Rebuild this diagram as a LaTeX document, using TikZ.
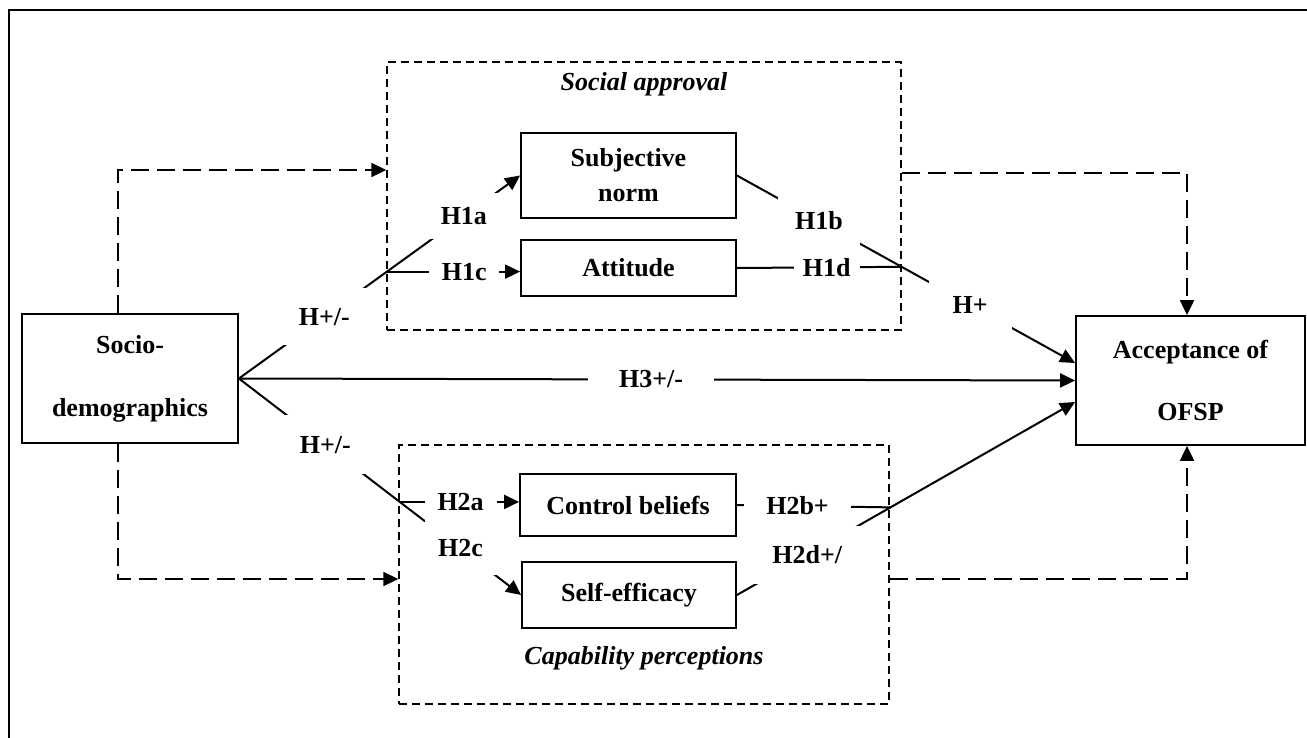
\documentclass[tikz,border=0pt]{standalone}
\usepackage{fontspec}
\setmainfont{Liberation Serif}
\usetikzlibrary{arrows.meta}
\newcommand{\figfont}{\fontsize{13}{17.5}\selectfont}
\tikzstyle{factor} = [draw, line width=0.9pt, inner sep=0pt, align=center, font=\figfont\bfseries]
\tikzstyle{construct} = [draw, line width=0.7pt, dash pattern=on 4pt off 2.5pt, inner sep=0pt]
\tikzstyle{ctitle} = [inner sep=0pt, font=\figfont\bfseries\itshape]
\tikzstyle{hyp} = [fill=white, font=\figfont\bfseries]
\tikzstyle{plain} = [line width=1pt]
\tikzstyle{link} = [plain, -{Triangle[length=7.5pt,width=7pt]}]
\tikzstyle{dlink} = [link, dash pattern=on 9pt off 4pt]
\begin{document}
\begin{tikzpicture}[x=0.5pt,y=-0.5pt]
\useasboundingbox (0,0) rectangle (1307,738);
% frame
\draw[line width=1pt] (9,738) -- (9,10) -- (1307,10);

% groups
\node[construct, minimum width=257pt, minimum height=134pt] (sa) at (644,196) {};
\node[ctitle] (satitle) at (644,84) {Social approval};
\node[construct, minimum width=245pt, minimum height=129.5pt] (cp) at (644,574.5) {};
\node[ctitle] (cptitle) at (644,658) {Capability perceptions};

% factors
\node[factor, minimum width=108pt, minimum height=64.5pt] (socio) at (130,378.5) {Socio-\\[14pt]demographics};
\node[factor, minimum width=114.5pt, minimum height=64.5pt] (acc) at (1190.5,380.5) {Acceptance of\\[13.5pt]OFSP};
\node[factor, minimum width=107.5pt, minimum height=42.5pt] (subj) at (628.5,175.5) {Subjective\\norm};
\node[factor, minimum width=107.5pt, minimum height=28pt] (att) at (628.5,268) {Attitude};
\node[factor, minimum width=108pt, minimum height=31pt] (ctrl) at (628,505) {Control beliefs};
\node[factor, minimum width=107pt, minimum height=33pt] (self) at (629,595) {Self-efficacy};

% dashed paths
\draw[dlink] ([xshift=-6pt]socio.north) |- ([yshift=13pt]sa.west);
\draw[dlink] ([xshift=-6pt]socio.south) |- ([yshift=-2.25pt]cp.west);
\draw[dlink] ([yshift=11.5pt]sa.east) -| ([xshift=-1.75pt]acc.north);
\draw[dlink] ([yshift=-2.25pt]cp.east) -| ([xshift=-1.75pt]acc.south);

% hypotheses
\draw[link] (socio.east) -- node[hyp, pos=0.304, inner sep=10pt] {H+/-} coordinate[pos=0.5265] (j1) node[hyp, pos=0.80, inner sep=7pt] {H1a} (subj.west);
\draw[link] (socio.east) -- node[hyp, pos=0.306, inner sep=10.5pt] {H+/-} coordinate[pos=0.57] (j2) node[hyp, pos=0.785, inner sep=9pt] {H2c} (self.west);
\draw[link] (j1) -- node[hyp, pos=0.58, inner sep=6.25pt] {H1c} (j1 -| att.west);
\draw[link] (j2) -- node[hyp, pos=0.51, inner sep=6.5pt] {H2a} (j2 -| ctrl.west);
\draw[link] (subj.east) -- node[hyp, pos=0.243, inner sep=8.5pt] {H1b} coordinate[pos=0.487] (j3) node[hyp, pos=0.69, inner sep=12pt] {H+} ([yshift=8.75pt]acc.west);
\draw[plain] (att.east) -- node[hyp, pos=0.545, inner sep=4.5pt] {H1d} (j3);
\draw[link] (self.east) -- node[hyp, pos=0.208, inner sep=10pt] {H2d+/} coordinate[pos=0.454] (j4) ([yshift=-10.75pt]acc.west);
\draw[plain] (ctrl.east) -- node[hyp, pos=0.395, inner sep=11pt] {H2b+} (j4);
\draw[link] (socio.east) -- node[hyp, pos=0.493, inner sep=15.5pt] {H3+/-} (acc.west);
\end{tikzpicture}
\end{document}
